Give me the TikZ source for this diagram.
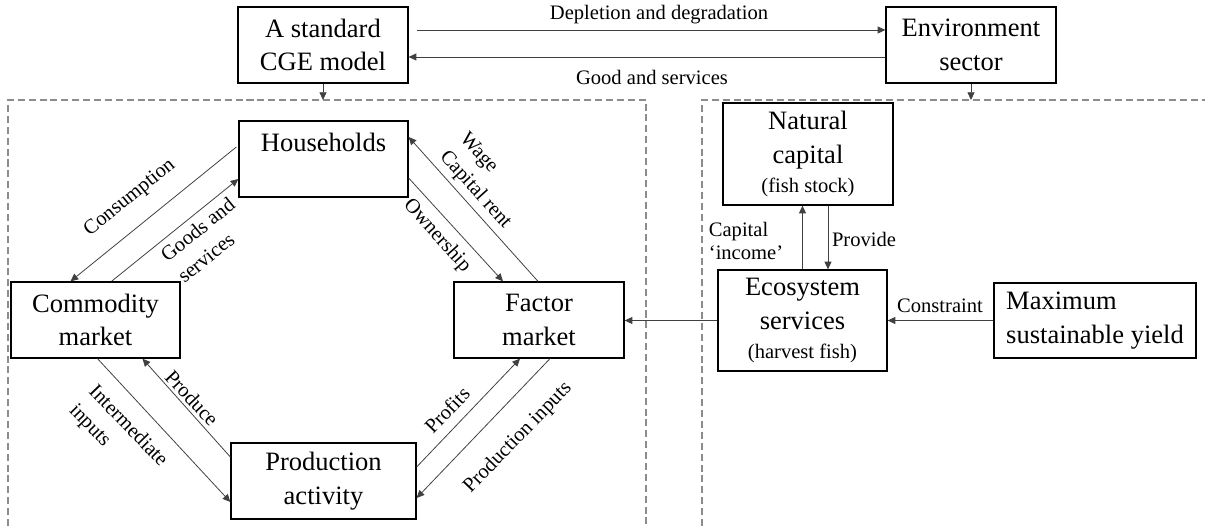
\documentclass[tikz,border=0pt]{standalone}
\usepackage{fontspec}
\setmainfont{Liberation Serif}
\usetikzlibrary{arrows.meta,calc}
\newcommand\boxfont{\fontsize{15.1}{19.2}\selectfont}
\newcommand\labfont{\fontsize{11.7}{15.4}\selectfont}
\begin{document}
\begin{tikzpicture}[x=0.02cm,y=-0.02cm,
  box/.style={draw, line width=0.75pt, align=center, inner sep=0pt, font=\boxfont},
  lab/.style={font=\labfont, inner sep=0pt},
  link/.style={draw=black!75, line width=0.45pt, -{Triangle[length=4.4pt,width=4pt]}},
  frame/.style={draw=black!45, line width=0.8pt, dash pattern=on 4pt off 2.2pt}]
\useasboundingbox (0,0) rectangle (1205,526);

% top level blocks
\node[box, minimum width=3.4cm, minimum height=1.52cm] (cge) at (323,45) {A standard\\CGE model};
\node[box, minimum width=3.4cm, minimum height=1.52cm] (env) at (971,45) {Environment\\sector};

% dashed frames (open at the bottom and on the right)
\coordinate (la) at (8,526);
\coordinate (lb) at (8,100);
\coordinate (lc) at (646,100);
\coordinate (ld) at (646,526);
\coordinate (ra) at (702,526);
\coordinate (rb) at (702,100);
\coordinate (rc) at (1205,100);
\draw[frame] (la) -- (lb) -- (lc) -- (ld);
\draw[frame] (ra) -- (rb) -- (rc);

% circular flow of the economy
\node[box, minimum width=3.38cm, minimum height=1.52cm] (hh) at (323.5,159) {Households\\\mbox{}};
\node[box, minimum width=3.38cm, minimum height=1.52cm] (cm) at (95.5,320) {Commodity\\market};
\node[box, minimum width=3.7cm, minimum height=1.52cm] (pa) at (323.5,481) {Production\\activity};
\node[box, minimum width=3.4cm, minimum height=1.52cm] (fm) at (539,320) {Factor\\market};

% environment sector
\node[box, minimum width=3.4cm, minimum height=2.04cm] (nc) at (808,154) {Natural\\capital\\[-3pt]{\labfont (fish stock)}};
\node[box, minimum width=3.38cm, minimum height=2.02cm] (es) at (802.5,320.5) {Ecosystem\\services\\[-3pt]{\labfont (harvest fish)}};
\node[box, minimum width=4.04cm, minimum height=1.5cm, align=left] (msy) at (1095,320.5) {Maximum\\sustainable yield};

% links between the two blocks
\draw[link] ($(cge.east)+(8,-15)$) -- ($(env.west)+(0,-15)$);
\draw[link] ($(env.west)+(0,12)$) -- ($(cge.east)+(0,12)$);
\node[lab] (tdep) at (659,15) {Depletion and degradation};
\node[lab] (tgs) at (652,77) {Good and services};
\draw[link] (cge.south) -- (cge.south |- lb);
\draw[link] (env.south) -- (env.south |- rb);

% flows around the economy
\draw[link] ($(hh.west)+(-2,-12)$) -- ($(cm.north)+(-25,0)$);
\draw[link] ($(cm.north)+(16,0)$) -- ($(hh.west)+(0,20)$);
\draw[link] ($(hh.east)+(0,19)$) -- ($(fm.north)+(-36,0)$);
\draw[link] ($(fm.north)+(-1,0)$) -- ($(hh.east)+(0,-22)$);
\draw[link] ($(pa.west)+(0,-24)$) -- ($(cm.south)+(47,0)$);
\draw[link] ($(cm.south)+(2,0)$) -- ($(pa.west)+(0,21)$);
\draw[link] ($(pa.east)+(0,-14)$) -- ($(fm.south)+(-19,0)$);
\draw[link] ($(fm.south)+(11,0)$) -- ($(pa.east)+(0,17)$);

\node[lab, rotate=39] (tcons) at (130,198) {Consumption};
\node[lab, rotate=39, align=left] (tgoods) at (206,240) {Goods and\\services};
\node[lab, rotate=-48] (town) at (437,236) {Ownership};
\node[lab, rotate=-48, align=left] (twage) at (485,181) {Wage\\Capital rent};
\node[lab, rotate=-47] (tprod) at (192,398) {Produce};
\node[lab, rotate=-46, align=left] (tint) at (118,436) {Intermediate\\inputs};
\node[lab, rotate=46] (tprof) at (447,410) {Profits};
\node[lab, rotate=46] (tpin) at (518,438) {Production inputs};

% flows inside the environment sector
\draw[link] (es.north) -- (es.north |- nc.south);
\coordinate (pv) at ($(nc.south)+(20,0)$);
\draw[link] (pv) -- (pv |- es.north);
\draw[link] (msy.west) -- (msy.west -| es.east);
\draw[link] (es.west) -- (es.west -| fm.east);
\node[lab, align=left, font=\fontsize{11.7}{13.5}\selectfont] (tcap) at (746,241) {Capital\\`income'};
\node[lab] (tprov) at (864,239) {Provide};
\node[lab] (tcon) at (940,306) {Constraint};
\end{tikzpicture}
\end{document}
